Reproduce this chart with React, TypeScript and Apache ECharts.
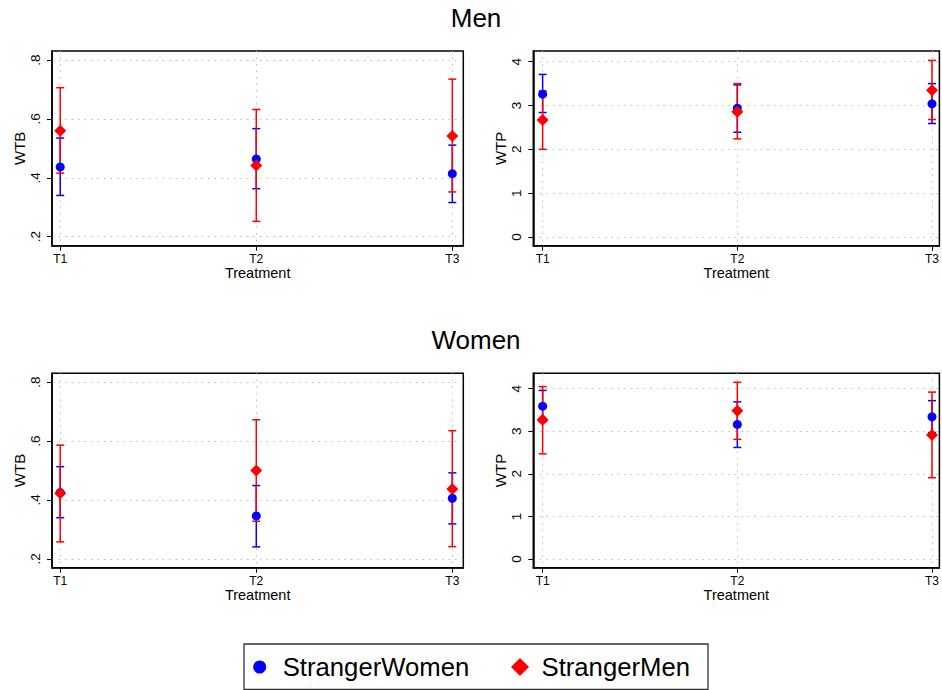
import React, { useEffect, useRef } from "react";
import * as echarts from "echarts";

const treatments = ["T1", "T2", "T3"];
const treatmentPos = [1, 2, 3];

// Men panel, WTB
const menWtbWomenMean = [0.437, 0.464, 0.414];
const menWtbWomenLow = [0.34, 0.363, 0.316];
const menWtbWomenHigh = [0.535, 0.567, 0.511];
const menWtbMenMean = [0.56, 0.442, 0.542];
const menWtbMenLow = [0.416, 0.252, 0.352];
const menWtbMenHigh = [0.706, 0.632, 0.735];

// Men panel, WTP
const menWtpWomenMean = [3.26, 2.94, 3.04];
const menWtpWomenLow = [2.84, 2.39, 2.59];
const menWtpWomenHigh = [3.71, 3.47, 3.5];
const menWtpMenMean = [2.67, 2.86, 3.35];
const menWtpMenLow = [2.0, 2.24, 2.68];
const menWtpMenHigh = [3.33, 3.5, 4.03];

// Women panel, WTB
const womenWtbWomenMean = [0.425, 0.346, 0.406];
const womenWtbWomenLow = [0.34, 0.241, 0.319];
const womenWtbWomenHigh = [0.513, 0.449, 0.492];
const womenWtbMenMean = [0.423, 0.5, 0.437];
const womenWtbMenLow = [0.258, 0.328, 0.242];
const womenWtbMenHigh = [0.586, 0.672, 0.635];

// Women panel, WTP
const womenWtpWomenMean = [3.59, 3.16, 3.34];
const womenWtpWomenLow = [3.22, 2.62, 2.97];
const womenWtpWomenHigh = [3.96, 3.69, 3.72];
const womenWtpMenMean = [3.27, 3.48, 2.91];
const womenWtpMenLow = [2.47, 2.81, 1.91];
const womenWtpMenHigh = [4.05, 4.15, 3.92];

const wtbTicks = [0.2, 0.4, 0.6, 0.8];
const wtpTicks = [0, 1, 2, 3, 4];

const FONT = "'Liberation Sans', Arial, Helvetica, sans-serif";
const BLUE = "#0000ff";
const RED = "#ff0000";

const fmtWtb = (v: number) => String(Math.round(v * 10) / 10).replace(/^0\./, ".");
const fmtWtp = (v: number) => String(Math.round(v));

const panels = [
  {
    grid: { left: 52, top: 51, width: 411.3, height: 194.7 },
    x: [0.958, 3.056], y: [0.1694, 0.8306], ticks: wtbTicks, fmt: fmtWtb, yName: "WTB",
    w: [menWtbWomenMean, menWtbWomenLow, menWtbWomenHigh],
    m: [menWtbMenMean, menWtbMenLow, menWtbMenHigh],
  },
  {
    grid: { left: 533.3, top: 51, width: 408.4, height: 194.7 },
    x: [0.952, 3.038], y: [-0.198, 4.244], ticks: wtpTicks, fmt: fmtWtp, yName: "WTP",
    w: [menWtpWomenMean, menWtpWomenLow, menWtpWomenHigh],
    m: [menWtpMenMean, menWtpMenLow, menWtpMenHigh],
  },
  {
    grid: { left: 52, top: 373.3, width: 411.3, height: 194.4 },
    x: [0.958, 3.056], y: [0.1705, 0.8295], ticks: wtbTicks, fmt: fmtWtb, yName: "WTB",
    w: [womenWtbWomenMean, womenWtbWomenLow, womenWtbWomenHigh],
    m: [womenWtbMenMean, womenWtbMenLow, womenWtbMenHigh],
  },
  {
    grid: { left: 533.3, top: 373.3, width: 408.4, height: 194.4 },
    x: [0.952, 3.038], y: [-0.204, 4.362], ticks: wtpTicks, fmt: fmtWtp, yName: "WTP",
    w: [womenWtpWomenMean, womenWtpWomenLow, womenWtpWomenHigh],
    m: [womenWtpMenMean, womenWtpMenLow, womenWtpMenHigh],
  },
];

function errorBarRender(color: string) {
  return (params: any, api: any) => {
    const x = api.value(0);
    const lo = api.value(1);
    const hi = api.value(2);
    const p1 = api.coord([x, lo]);
    const p2 = api.coord([x, hi]);
    const style = { stroke: color, lineWidth: 1.5 };
    const cw = 4;
    return {
      type: "group",
      children: [
        { type: "line", shape: { x1: p1[0], y1: p1[1], x2: p2[0], y2: p2[1] }, style },
        { type: "line", shape: { x1: p1[0] - cw, y1: p1[1], x2: p1[0] + cw, y2: p1[1] }, style },
        { type: "line", shape: { x1: p2[0] - cw, y1: p2[1], x2: p2[0] + cw, y2: p2[1] }, style },
      ],
    };
  };
}

export default function App() {
  const ref = useRef<HTMLDivElement>(null);
  useEffect(() => {
    if (!ref.current) return;
    const chart = echarts.init(ref.current, null, { renderer: "svg" });

    const grids: any[] = [];
    const xAxes: any[] = [];
    const yAxes: any[] = [];
    const series: any[] = [];
    const axisLineStyle = { color: "#000", width: 1.5 };
    const splitStyle = { color: "#bdbdbd", width: 1, type: [1.5, 5] };

    panels.forEach((p, i) => {
      grids.push({
        ...p.grid,
        show: true,
        borderColor: "#000",
        borderWidth: 1.5,
        backgroundColor: "transparent",
        containLabel: false,
      });
      xAxes.push({
        type: "value",
        gridIndex: i,
        min: p.x[0],
        max: p.x[1],
        axisLine: { show: true, onZero: false, lineStyle: axisLineStyle },
        axisTick: { show: true, length: 5, customValues: treatmentPos, lineStyle: { color: "#000", width: 1 } },
        axisLabel: {
          customValues: treatmentPos,
          formatter: (v: number) => treatments[Math.round(v) - 1],
          fontSize: 12,
          color: "#000",
          fontFamily: FONT,
          margin: 7,
        },
        splitLine: { show: true, lineStyle: splitStyle },
        name: "Treatment",
        nameLocation: "middle",
        nameGap: 20,
        nameTextStyle: { fontSize: 14.5, color: "#000", fontFamily: FONT },
      });
      yAxes.push({
        type: "value",
        gridIndex: i,
        min: p.y[0],
        max: p.y[1],
        axisLine: { show: true, onZero: false, lineStyle: axisLineStyle },
        axisTick: { show: true, length: 5, customValues: p.ticks, lineStyle: { color: "#000", width: 1 } },
        axisLabel: {
          customValues: p.ticks,
          formatter: p.fmt,
          rotate: 90,
          fontSize: 13.5,
          color: "#000",
          fontFamily: FONT,
          margin: 10,
        },
        splitLine: { show: true, lineStyle: splitStyle },
        name: p.yName,
        nameLocation: "middle",
        nameGap: 25,
        nameTextStyle: { fontSize: 15, color: "#000", fontFamily: FONT },
      });
      const wBars = treatmentPos.map((t, k) => [t, p.w[1][k], p.w[2][k]]);
      const mBars = treatmentPos.map((t, k) => [t, p.m[1][k], p.m[2][k]]);
      series.push({
        type: "custom",
        name: "StrangerWomen CI",
        xAxisIndex: i,
        yAxisIndex: i,
        renderItem: errorBarRender(BLUE),
        encode: { x: 0, y: [1, 2] },
        data: wBars,
        z: 2,
      });
      series.push({
        type: "custom",
        name: "StrangerMen CI",
        xAxisIndex: i,
        yAxisIndex: i,
        renderItem: errorBarRender(RED),
        encode: { x: 0, y: [1, 2] },
        data: mBars,
        z: 3,
      });
      series.push({
        type: "scatter",
        name: "StrangerWomen",
        xAxisIndex: i,
        yAxisIndex: i,
        symbol: "circle",
        symbolSize: 9,
        itemStyle: { color: BLUE, opacity: 1 },
        data: treatmentPos.map((t, k) => [t, p.w[0][k]]),
        z: 4,
      });
      series.push({
        type: "scatter",
        name: "StrangerMen",
        xAxisIndex: i,
        yAxisIndex: i,
        symbol: "diamond",
        symbolSize: 12,
        itemStyle: { color: RED, opacity: 1 },
        data: treatmentPos.map((t, k) => [t, p.m[0][k]]),
        z: 5,
      });
    });

    chart.setOption({
      animation: false,
      backgroundColor: "#fff",
      textStyle: { fontFamily: FONT },
      grid: grids,
      xAxis: xAxes,
      yAxis: yAxes,
      series,
      legend: [
        {
          data: [{ name: "StrangerWomen", icon: "circle" }],
          left: 253.2,
          top: 654,
          padding: 0,
          itemWidth: 36,
          itemHeight: 13,
          selectedMode: false,
          textStyle: { fontSize: 25.7, color: "#000", fontFamily: FONT },
        },
        {
          data: [{ name: "StrangerMen", icon: "path://M0,-1L1,0L0,1L-1,0Z" }],
          left: 511,
          top: 654,
          padding: 0,
          itemWidth: 33,
          itemHeight: 18,
          selectedMode: false,
          textStyle: { fontSize: 25.7, color: "#000", fontFamily: FONT },
        },
      ],
      graphic: [
        {
          type: "text",
          x: 476,
          y: 18,
          style: { text: "Men", fontSize: 26, fontFamily: FONT, fill: "#000", align: "center", verticalAlign: "middle" },
        },
        {
          type: "text",
          x: 476,
          y: 339.5,
          style: { text: "Women", fontSize: 26, fontFamily: FONT, fill: "#000", align: "center", verticalAlign: "middle" },
        },
        {
          type: "rect",
          shape: { x: 244, y: 644, width: 464, height: 45.5 },
          style: { fill: "none", stroke: "#333", lineWidth: 1.3 },
          z: -1,
        },
      ],
    });
    return () => chart.dispose();
  }, []);
  return <div ref={ref} style={{ position: "fixed", left: 0, top: 0, width: 942, height: 690 }} />;
}
